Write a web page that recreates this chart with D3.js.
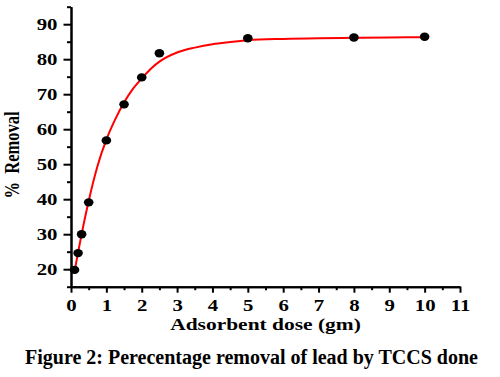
<!DOCTYPE html>
<html>
<head>
<meta charset="utf-8">
<script src="https://cdn.jsdelivr.net/npm/d3@7"></script>
<style>
  body { margin: 0; background: #fff; }
  text { font-family: "Liberation Serif", "Times New Roman", serif; font-weight: bold; fill: #000; }
</style>
</head>
<body>
<div id="wrapper"></div>
<script>
// 1. Data
const doseValues = [0.1, 0.2, 0.3, 0.5, 1, 1.5, 2, 2.5, 5, 8, 10]
const removalValues = [19.8, 24.6, 30.0, 39.1, 56.8, 67.1, 74.8, 81.7, 86.0, 86.2, 86.4]

// fitted red curve
const fitDose = [0.1, 0.2, 0.3, 0.5, 0.75, 1, 1.25, 1.5, 1.75, 2, 2.25, 2.5, 3, 3.5, 4, 4.5, 5, 6, 7, 8, 9, 10]
const fitRemoval = [19.3, 24.8, 30.0, 39.5, 49.5, 57.0, 62.8, 67.6, 71.5, 74.5, 77.2, 79.3, 81.9, 83.3, 84.3, 84.9, 85.4, 85.8, 86.0, 86.1, 86.2, 86.3]

const xMajorTicks = [0, 1, 2, 3, 4, 5, 6, 7, 8, 9, 10, 11]
const xMinorTicks = [0.5, 1.5, 2.5, 3.5, 4.5, 5.5, 6.5, 7.5, 8.5, 9.5, 10.5]
const yMajorTicks = [20, 30, 40, 50, 60, 70, 80, 90]
const yMinorTicks = [15, 25, 35, 45, 55, 65, 75, 85, 95]

const titleText = "Figure 2: Perecentage removal of lead by TCCS done"
const xLabelText = "Adsorbent dose (gm)"
const yLabelText = "%  Removal"

const points = doseValues.map((d, i) => ({ x: d, y: removalValues[i] }))
const fitPoints = fitDose.map((d, i) => ({ x: d, y: fitRemoval[i] }))

// 2. Dimensions
const width = 500
const height = 377
const plot = { left: 71, right: 460, top: 6.7, bottom: 286.7 }
const stretch = 1.3   // the original chart text looks stretched sideways

// 3. Canvas
const svg = d3.select("#wrapper")
  .append("svg")
  .attr("width", width)
  .attr("height", height)

// 4. Scales
const xScale = d3.scaleLinear()
  .domain([0, 11])
  .range([plot.left, plot.right])

const yScale = d3.scaleLinear()
  .domain([15, 95])
  .range([plot.bottom, plot.top])

// 5. Axes
const xMinor = svg.append("g")
  .attr("transform", `translate(0,${plot.bottom})`)
  .call(d3.axisBottom(xScale).tickValues(xMinorTicks).tickSize(3.5).tickSizeOuter(0).tickFormat(""))

const xAxis = svg.append("g")
  .attr("transform", `translate(0,${plot.bottom})`)
  .call(d3.axisBottom(xScale).tickValues(xMajorTicks).tickSize(6).tickSizeOuter(0))

xAxis.selectAll(".tick text")
  .attr("x", 0)
  .attr("y", 0)
  .attr("dy", 0)
  .attr("transform", `translate(0,24) scale(${stretch},1)`)
  .style("font-size", "16px")

const yMinor = svg.append("g")
  .attr("transform", `translate(${plot.left},0)`)
  .call(d3.axisLeft(yScale).tickValues(yMinorTicks).tickSize(4).tickSizeOuter(0).tickFormat(""))

const yAxis = svg.append("g")
  .attr("transform", `translate(${plot.left},0)`)
  .call(d3.axisLeft(yScale).tickValues(yMajorTicks).tickSize(7.5).tickSizeOuter(0))

yAxis.selectAll(".tick text")
  .attr("x", 0)
  .attr("dy", "0.32em")
  .attr("transform", `translate(-13.5,0) scale(${stretch},1)`)
  .style("font-size", "16px")

svg.selectAll(".domain, .tick line")
  .attr("stroke", "#000")
  .attr("stroke-width", 2)

// 6. Fit line and points
const lineGenerator = d3.line()
  .x(d => xScale(d.x))
  .y(d => yScale(d.y))
  .curve(d3.curveMonotoneX)

svg.append("path")
  .attr("d", lineGenerator(fitPoints))
  .attr("fill", "none")
  .attr("stroke", "#ff0000")
  .attr("stroke-width", 2)

svg.selectAll(".dot")
  .data(points)
  .join("ellipse")
  .attr("class", "dot")
  .attr("cx", d => xScale(d.x))
  .attr("cy", d => yScale(d.y))
  .attr("rx", 4.8)
  .attr("ry", 4.2)
  .attr("fill", "#000")

// 7. Labels
svg.append("text")
  .attr("transform", `translate(${(plot.left + plot.right) / 2},330) scale(${stretch},1)`)
  .attr("text-anchor", "middle")
  .style("font-size", "16.5px")
  .text(xLabelText)

svg.append("text")
  .attr("transform", `translate(19,155) scale(${stretch},1) rotate(-90)`)
  .attr("text-anchor", "middle")
  .style("font-size", "16.5px")
  .style("white-space", "pre")
  .text(yLabelText)

svg.append("text")
  .attr("x", 251.5)
  .attr("y", 364.3)
  .attr("text-anchor", "middle")
  .style("font-size", "20px")
  .text(titleText)
</script>
</body>
</html>
